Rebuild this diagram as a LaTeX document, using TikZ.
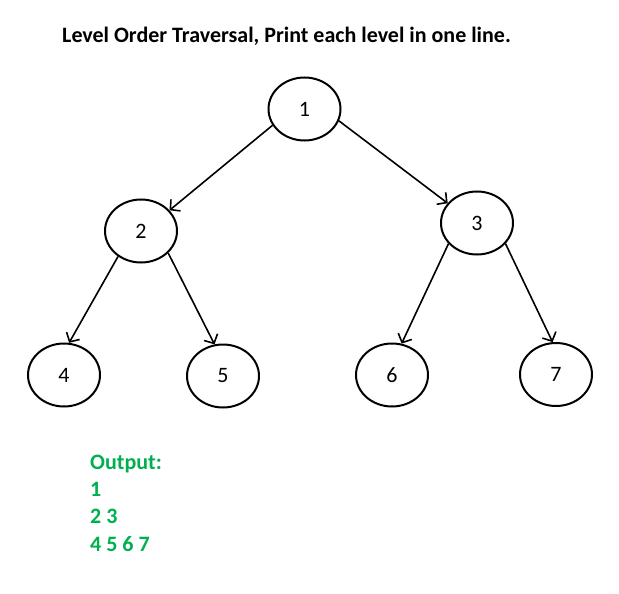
\documentclass[tikz,border=0pt]{standalone}
\usepackage{fontspec}
\setmainfont{Carlito}
\usetikzlibrary{shapes.geometric,arrows.meta}
\definecolor{outgreen}{RGB}{0,176,80}

\begin{document}
\begin{tikzpicture}[x=1pt,y=-1pt,
        font=\fontsize{22}{26}\selectfont,
        vertex/.style={draw,ellipse,line width=2pt,minimum width=72pt,minimum height=63pt,inner sep=0pt},
        link/.style={->,line width=1.6pt,>={Straight Barb[length=7pt,width=15pt]}},
        heading/.style={anchor=base west,inner sep=0pt,font=\fontsize{22}{26}\selectfont\bfseries},
        result/.style={heading,text=outgreen}]
    \useasboundingbox (0,0) rectangle (619,594);

    \node[heading] (title) at (62,43) {Level Order Traversal, Print each level in one line.};

    % the tree
    \node[vertex] (n1) at (304.5,109) {1};
    \node[vertex] (n2) at (141,231) {2};
    \node[vertex] (n3) at (477,223) {3};
    \node[vertex] (n4) at (64,375) {4};
    \node[vertex] (n5) at (223,376) {5};
    \node[vertex] (n6) at (392,375) {6};
    \node[vertex] (n7) at (556,374.5) {7};

    \draw[link] (n1.207) -- (n2.36);
    \draw[link] (n1.341) -- (n3.146);
    \draw[link] (n2.228) -- (n4.81);
    \draw[link] (n2.321) -- (n5.105);
    \draw[link] (n3.216) -- (n6.73);
    \draw[link] (n3.324) -- (n7.96);

    % output lines
    \node[result] (out0) at (90,469) {Output:};
    \node[result] (out1) at (90,496) {1};
    \node[result] (out2) at (90,523) {2 3};
    \node[result] (out3) at (90,551) {4 5 6 7};
\end{tikzpicture}
\end{document}
